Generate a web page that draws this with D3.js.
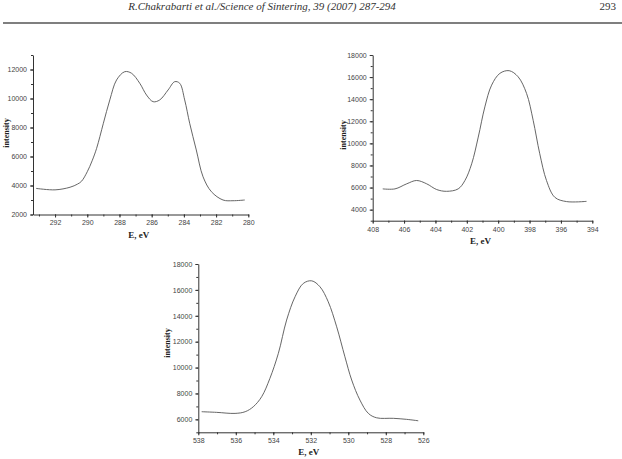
<!DOCTYPE html>
<html>
<head>
<meta charset="utf-8">
<script src="https://cdn.jsdelivr.net/npm/d3@7"></script>
<style>
  body { margin: 0; background: #fff; }
  svg { display: block; }
  .tick text { font-family: Arial, "Liberation Sans", sans-serif; font-size: 7px; fill: #444; }
  .axis path, .axis line { stroke: #333; }
  .lbl { font-family: "Liberation Serif", "DejaVu Serif", serif; font-weight: bold; fill: #222; }
</style>
</head>
<body>
<svg id="page" width="622" height="459"></svg>
<script>
// C 1s
const cEnergy = [293.18, 292, 291.07, 290.6, 290.35, 290, 289.7, 289.42, 289.0, 288.6, 288.18, 287.67, 287.25,
  286.74, 286.32, 285.91, 285.5, 284.98, 284.57, 284.26, 283.95, 283.64, 283.23, 282.81,
  282.29, 281.57, 280.95, 280.22];
const cIntensity = [3800, 3700, 3880, 4100, 4300, 4950, 5700, 6560, 8290, 9900, 11280, 11850, 11740,
  11050, 10240, 9780, 9900, 10590, 11160, 11050, 9900, 8290, 6450, 4600,
  3570, 3000, 2950, 3000];

// N 1s
const nEnergy = [407.36, 406.58, 405.83, 405.2, 404.56, 403.92, 403.29, 402.55, 402.12, 401.69,
  401.27, 400.85, 400.42, 399.89, 399.3, 398.73, 398.19, 397.77, 397.35, 396.92,
  396.39, 395.64, 394.37];
const nIntensity = [5880, 5880, 6340, 6640, 6340, 5820, 5660, 5880, 6640, 8150,
  10570, 13300, 15270, 16340, 16580, 16030, 14520, 12090, 9060, 6640,
  5120, 4730, 4750];

// O 1s
const oEnergy = [537.82, 537.02, 536.04, 535.5, 535.07, 534.62, 534.18, 533.73, 533.29, 532.84,
  532.4, 531.95, 531.51, 531.07, 530.62, 530.18, 529.82, 529.38, 528.93, 528.49,
  527.6, 526.89, 526.27];
const oIntensity = [6590, 6540, 6460, 6590, 6970, 7750, 9170, 11100, 13670, 15470,
  16500, 16700, 16240, 15080, 13150, 10830, 9040, 7490, 6460, 6120,
  6080, 6000, 5890];

const cXTicks = [292, 290, 288, 286, 284, 282, 280];
const cYTicks = [2000, 4000, 6000, 8000, 10000, 12000];
const nXTicks = [408, 406, 404, 402, 400, 398, 396, 394];
const nYTicks = [4000, 6000, 8000, 10000, 12000, 14000, 16000, 18000];
const oXTicks = [538, 536, 534, 532, 530, 528, 526];
const oYTicks = [6000, 8000, 10000, 12000, 14000, 16000, 18000];

const svg = d3.select("#page");

// running head of the journal page
svg.append("text")
    .attr("x", 262).attr("y", 10)
    .attr("text-anchor", "middle")
    .style("font-family", "Liberation Serif, serif")
    .style("font-style", "italic")
    .style("font-size", "11px")
    .style("fill", "#333")
    .text("R.Chakrabarti et al./Science of Sintering, 39 (2007) 287-294");
svg.append("text")
    .attr("x", 616).attr("y", 10)
    .attr("text-anchor", "end")
    .style("font-family", "Liberation Serif, serif")
    .style("font-size", "11px")
    .style("fill", "#333")
    .text("293");
svg.append("line")
    .attr("x1", 3).attr("x2", 622)
    .attr("y1", 23).attr("y2", 23)
    .attr("stroke", "#555").attr("stroke-width", 1.5);

function drawPanel(p) {
    const x = d3.scaleLinear().domain(p.xDomain).range(p.xRange);
    const y = d3.scaleLinear().domain(p.yDomain).range(p.yRange);
    const g = svg.append("g");

    // minor ticks every 1 eV / 1000 counts
    const xMinor = d3.range(Math.ceil(Math.min(...p.xDomain)), Math.floor(Math.max(...p.xDomain)) + 1);
    const yMinor = d3.range(Math.ceil(p.yDomain[0] / 1000) * 1000, p.yDomain[1] + 1, 1000);

    g.append("g")
        .attr("class", "axis")
        .attr("transform", `translate(0,${p.yRange[0]})`)
        .call(d3.axisBottom(x).tickValues(xMinor).tickSize(2).tickFormat(""))
        .call(a => a.select(".domain").remove());
    g.append("g")
        .attr("class", "axis")
        .attr("transform", `translate(${p.xRange[0]},0)`)
        .call(d3.axisLeft(y).tickValues(yMinor).tickSize(2).tickFormat(""))
        .call(a => a.select(".domain").remove());

    g.append("g")
        .attr("class", "axis")
        .attr("transform", `translate(0,${p.yRange[0]})`)
        .call(d3.axisBottom(x).tickValues(p.xTicks).tickSize(3).tickSizeOuter(0).tickPadding(3).tickFormat(d3.format("d")));
    g.append("g")
        .attr("class", "axis")
        .attr("transform", `translate(${p.xRange[0]},0)`)
        .call(d3.axisLeft(y).tickValues(p.yTicks).tickSize(3).tickSizeOuter(0).tickPadding(3).tickFormat(d3.format("d")));

    const line = d3.line()
        .x((d, i) => x(p.energy[i]))
        .y(d => y(d))
        .curve(d3.curveCatmullRom);
    g.append("path")
        .datum(p.intensity)
        .attr("fill", "none")
        .attr("stroke", "#555")
        .attr("stroke-width", 0.9)
        .attr("d", line);

    g.append("text")
        .attr("class", "lbl")
        .attr("x", (p.xRange[0] + p.xRange[1]) / 2 - 2)
        .attr("y", p.yRange[0] + 23)
        .attr("text-anchor", "middle")
        .style("font-size", "9px")
        .text("E, eV");
    g.append("text")
        .attr("class", "lbl")
        .attr("transform", `translate(${p.labelX},${p.labelY}) rotate(-90)`)
        .attr("text-anchor", "middle")
        .style("font-size", "8px")
        .text("intensity");
}

drawPanel({
    energy: cEnergy, intensity: cIntensity,
    xDomain: [293.37, 280], xRange: [33, 248.3],
    yDomain: [2000, 13000], yRange: [214.5, 55],
    xTicks: cXTicks, yTicks: cYTicks, labelX: 9, labelY: 133
});
drawPanel({
    energy: nEnergy, intensity: nIntensity,
    xDomain: [408, 394], xRange: [372.7, 592.3],
    yDomain: [3000, 18000], yRange: [220.7, 55],
    xTicks: nXTicks, yTicks: nYTicks, labelX: 346, labelY: 135
});
drawPanel({
    energy: oEnergy, intensity: oIntensity,
    xDomain: [538, 526], xRange: [198.3, 423.3],
    yDomain: [5000, 18000], yRange: [432.3, 264],
    xTicks: oXTicks, yTicks: oYTicks, labelX: 170, labelY: 343
});
</script>
</body>
</html>
